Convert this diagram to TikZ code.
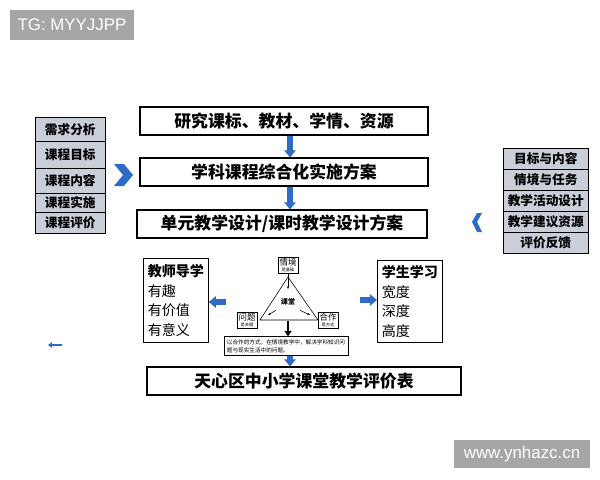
\documentclass[tikz,border=0pt]{standalone}
\usepackage{fontspec}
\setmainfont{Liberation Sans}
\newfontfamily\cjk{Noto Sans CJK SC}
\newcommand\cjkb{\cjk\bfseries}
\usetikzlibrary{arrows.meta, positioning, shapes.geometric, calc}
\definecolor{listgray}{HTML}{C9CED9}
\definecolor{arrblue}{HTML}{2E6BC6}
\definecolor{tagray}{HTML}{A6A6A6}

\begin{document}
\begin{tikzpicture}[x=0.025cm, y=-0.025cm,
    mainbox/.style={draw, thick, minimum height=0.7cm, font=\cjkb\large},
    cell/.style={draw, fill=listgray, anchor=north west, font=\cjkb\small, inner sep=0pt},
    downarr/.style={-{Triangle[width=8pt,length=5pt]}, line width=4pt, arrblue},
    sidebox/.style={draw, thick, align=left, anchor=north west, inner sep=3pt},
    corner/.style={draw, fill=white, font=\cjk\fontsize{6}{6}\selectfont, align=center, inner sep=1pt},
    tag/.style={fill=tagray, text=white, font=\large, inner sep=0pt}
]
    \useasboundingbox (0,0) rectangle (600,480);
    % tags
    \node[tag, minimum width=3.1cm, minimum height=0.75cm] (tg) at (72,25) {TG: MYYJJPP};
    \node[tag, minimum width=3.4cm, minimum height=0.7cm] (web) at (522,454) {www.ynhazc.cn};

    % main flow
    \node[mainbox, minimum width=7.2cm] (res) at (284,121) {研究课标、教材、学情、资源};
    \node[mainbox, minimum width=7.2cm] (plan) at (284,172) {学科课程综合化实施方案};
    \node[mainbox, minimum width=7.25cm] (unit) at (282,224) {单元教学设计/课时教学设计方案};
    \node[mainbox, minimum width=7.85cm] (eval) at (304,381) {天心区中小学课堂教学评价表};
    \draw[downarr] (res.south -| 290,0) -- (plan.north -| 290,0);
    \draw[downarr] (plan.south -| 290,0) -- (unit.north -| 290,0);

    % left list
    \node[cell, minimum width=1.75cm, minimum height=0.6cm] (l1) at (35,117) {需求分析};
    \node[cell, minimum width=1.75cm, minimum height=0.675cm] (l2) at (35,141) {课程目标};
    \node[cell, minimum width=1.75cm, minimum height=0.625cm] (l3) at (35,168) {课程内容};
    \node[cell, minimum width=1.75cm, minimum height=0.475cm] (l4) at (35,193) {课程实施};
    \node[cell, minimum width=1.75cm, minimum height=0.525cm] (l5) at (35,212) {课程评价};
    \fill[arrblue] (114,164) -- (124,164) -- (133,175) -- (124,186) -- (114,186) -- (123,175) -- cycle;

    % right list
    \foreach \t [count=\i] in {目标与内容,情境与任务,教学活动设计,教学建议资源,评价反馈}
        \node[cell, minimum width=2.125cm, minimum height=0.525cm] (r\i) at (503,{148+21*(\i-1)}) {\t};
    \fill[arrblue] (482,213) -- (477,222) -- (482,232) -- (477,232) -- (472,222) -- (477,213) -- cycle;

    % teacher / student
    \node[sidebox, minimum width=1.55cm, minimum height=2.1cm] (teach) at (143,258)
        {{\cjkb 教师导学}\\[2pt]{\cjk 有趣}\\[2pt]{\cjk 有价值}\\[2pt]{\cjk 有意义}};
    \node[sidebox, minimum width=1.4cm, minimum height=2.05cm] (stud) at (377,260)
        {{\cjkb 学生学习}\\[2pt]{\cjk 宽度}\\[2pt]{\cjk 深度}\\[2pt]{\cjk 高度}};

    % classroom triangle
    \coordinate (ta) at (288,277);
    \coordinate (tl) at (260,320);
    \coordinate (tr) at (318,320);
    \draw (ta) -- (tl) -- (tr) -- cycle;
    \node[font=\cjkb\fontsize{5}{5}\selectfont] (room) at (288,302) {课堂};
    \node[corner] (sit) at (288,265) {情境\\[-2pt]{\fontsize{3}{3}\selectfont 是基础}};
    \node[corner] (prob) at (247,320) {问题\\[-2pt]{\fontsize{3}{3}\selectfont 是关键}};
    \node[corner] (coop) at (328,320) {合作\\[-2pt]{\fontsize{3}{3}\selectfont 是方式}};
    \draw[-{Stealth[length=2pt]}] (sit.south) -- (288,289);
    \draw[-{Stealth[length=2pt]}] (room.south west) -- (268,315);
    \draw[-{Stealth[length=2pt]}] (room.south east) -- (310,315);
    \node[draw, font=\cjk\fontsize{4}{5.5}\selectfont, align=left, inner sep=2pt] (goal) at (286,346)
        {以合作的方式，在情境教学中，解决学科知识问\\题与现实生活中的问题。};
    \draw[-{Triangle[width=5pt,length=4pt]}, line width=2pt] (288,321) -- (goal.north -| 288,0);
    \draw[downarr] (goal.south -| 290,0) -- (eval.north -| 290,0);

    % side arrows
    \draw[-{Triangle[width=8pt,length=5pt]}, line width=4pt, arrblue] (226,302) -- (teach.east |- 0,302);
    \draw[-{Triangle[width=8pt,length=5pt]}, line width=4pt, arrblue] (360,300) -- (stud.west |- 0,300);
    \draw[-{Triangle[width=4pt,length=3pt]}, line width=1.5pt, arrblue] (62,345) -- (48,345);
\end{tikzpicture}
\end{document}
